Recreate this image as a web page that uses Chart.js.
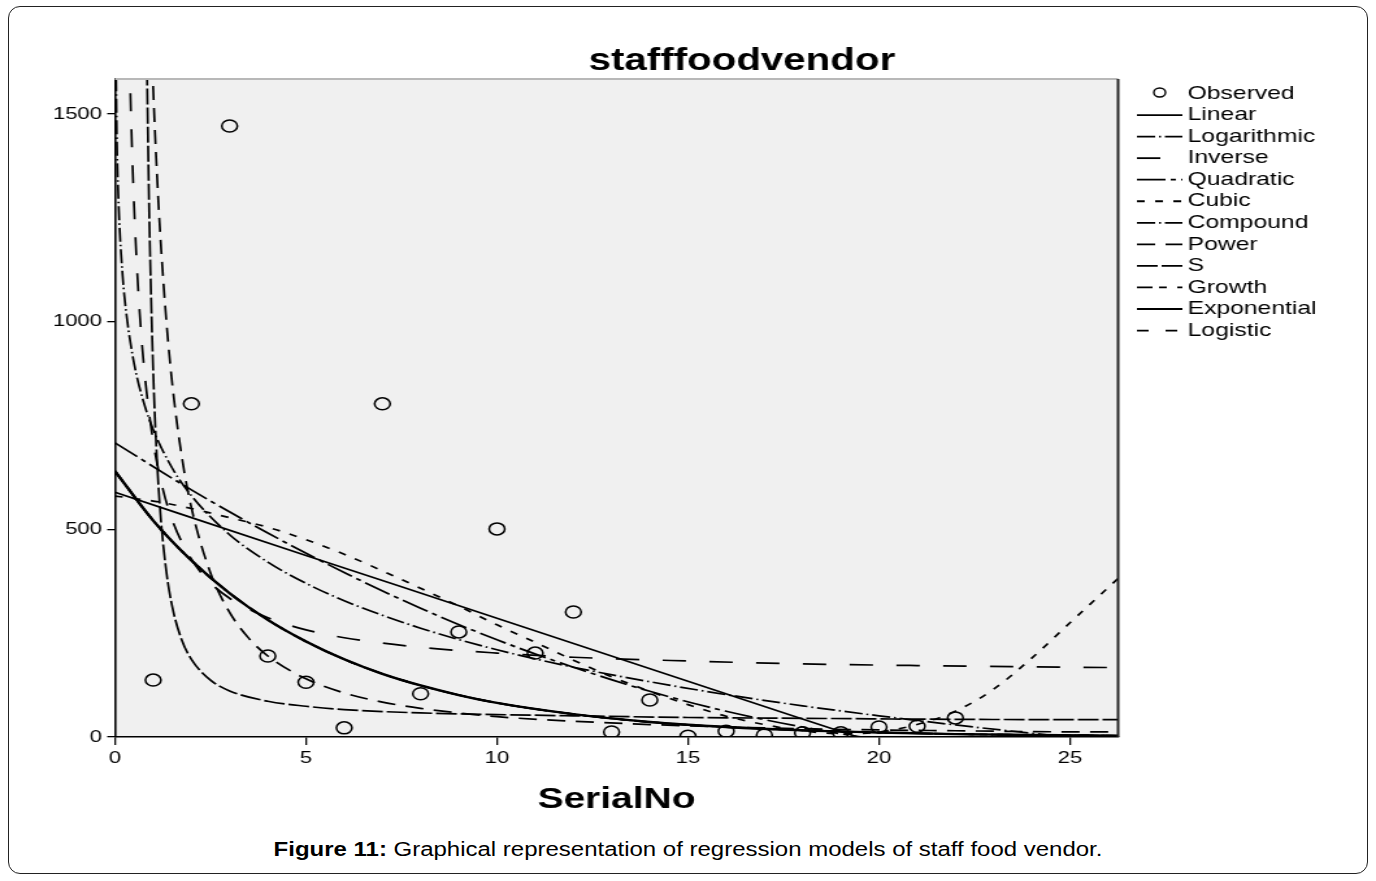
<!DOCTYPE html>
<html><head><meta charset="utf-8">
<script src="https://cdn.jsdelivr.net/npm/chart.js@4.4.1/dist/chart.umd.min.js"></script>
<style>
html,body{margin:0;padding:0;background:#fff;}
#wrap{position:relative;width:1376px;height:881px;overflow:hidden;}
#frame{position:absolute;left:8px;top:6px;width:1358px;height:866px;border:1.5px solid #222;border-radius:12px;}
#c{position:absolute;left:0;top:0;}
#cap{position:absolute;left:0;top:838px;width:1376px;text-align:center;font:19.5px "Liberation Sans",Arial,sans-serif;color:#000;transform:scaleX(1.23);transform-origin:688px 0;white-space:nowrap;}
</style></head><body>
<div id="wrap"><div id="frame"></div>
<canvas id="c" width="1059" height="830" style="width:1376px;height:830px"></canvas>
<div id="cap"><b>Figure 11:</b> Graphical representation of regression models of staff food vendor.</div></div>
<script>
// ---- data ----
const serialNo = [1,2,3,4,5,6,7,8,9,10,11,12,13,14,15,16,17,18,19,20,21,22];
const observed = [137,802,1471,195,132,22,802,104,253,501,202,301,12,89,2,14,5,10,10,24,26,46];

const linearX = [0,5,10,15,20,26.3];
const linearY = [589,437,286,134,-17,-208];

const logX = [0.02,0.05,0.1,0.2,0.3,0.5,0.75,1,1.5,2,3,4,5,6,8,10,12,14,16,18,20,22,24,26.3];
const logY = [1640,1429,1270,1110,1017,899,806,740,647,581,487,421,370,328,262,210,168,133,102,75,51,29,9,-12];

const inverseX = [0.34,0.4,0.45,0.5,0.6,0.7,0.8,1,1.25,1.5,2,2.5,3,4,5,6,8,10,12,15,18,21,24,26.3];
const inverseY = [1810,1560,1403,1277,1088,954,853,711,598,522,428,371,334,287,258,239,216,202,192,183,176,172,169,167];

const quadX = [0,2,4,6,8,10,12,14,16,18,20,22,24,26.3];
const quadY = [708,595,491,396,310,234,168,110,62,24,-6,-25,-37,-38];

const cubicX = [0,1,2,3,4,5,6,7,8,9,10,11,12,13,14,15,16,17,18,19,20,21,22,23,24,25,26.3];
const cubicY = [580,568,550,528,505,475,440,400,358,315,270,228,185,145,110,78,50,30,15,8,12,30,62,115,190,275,385];

const expX = [0,1,2,3,4,5,6,7,8,9,10,12,14,16,18,20,22,24,26.3];
const expY = [640,521,425,346,282,230,187,152,124,101,82,55,36,24,16,11,7,5,3];

const powerX = [0.85,0.9,1,1.1,1.2,1.35,1.5,1.75,2,2.5,3,3.5,4,5,6,7,8,10,12,14,16,18,20,22,24,26.3];
const powerY = [1991,1827,1560,1352,1187,995,849,674,552,395,300,238,195,140,106,84,69,49,38,30,24,20,17,15,13,12];

const sX = [0.78,0.82,0.85,0.9,1,1.1,1.2,1.35,1.5,1.75,2,2.5,3,4,5,6,8,10,12,15,18,21,24,26.3];
const sY = [2110,1737,1521,1241,880,664,525,394,313,233,187,137,111,86,74,66,58,54,51,47,45,43,42,42];

const xTickValues = [0,5,10,15,20,25];
const yTickValues = [0,500,1000,1500];

// ---- chart ----
const FONT = '"Liberation Sans", Arial, sans-serif';
Chart.defaults.font.family = FONT;
Chart.defaults.color = '#000';

function pts(xs, ys){ return xs.map((x,i)=>({x:x, y:ys[i]})); }
function curve(label, xs, ys, dash, width){
  return {label:label, data:pts(xs,ys), showLine:true, borderColor:'#000', backgroundColor:'#000',
    borderWidth:width||1.7, borderDash:dash, pointRadius:0, pointHoverRadius:0, fill:false,
    cubicInterpolationMode:'monotone'};
}

const datasets = [
  {label:'Observed', data:pts(serialNo, observed), showLine:false, pointStyle:'circle', pointRadius:6,
   pointBorderWidth:1.5, pointBorderColor:'#000', pointBackgroundColor:'rgba(0,0,0,0)'},
  curve('Linear', linearX, linearY, []),
  curve('Logarithmic', logX, logY, [14,3,1.5,3]),
  curve('Inverse', inverseX, inverseY, [18,18]),
  curve('Quadratic', quadX, quadY, [22,4,4,4]),
  curve('Cubic', cubicX, cubicY, [6,8]),
  curve('Compound', expX, expY, [14,3,1.5,3]),
  curve('Power', powerX, powerY, [14,8]),
  curve('S', sX, sY, [16,3]),
  curve('Growth', expX, expY, [12,5,6,8]),
  curve('Exponential', expX, expY, [], 2.4),
  curve('Logistic', expX, expY, [9,13])
];

const decor = {
  id:'decor',
  beforeDraw(chart){
    const {ctx, chartArea:a} = chart;
    ctx.save(); ctx.fillStyle='#f0f0f0';
    ctx.fillRect(a.left, a.top, a.right-a.left, a.bottom-a.top);
    ctx.restore();
  },
  afterDraw(chart){
    const {ctx, chartArea:a} = chart;
    ctx.save();
    ctx.strokeStyle='#b8b8b8'; ctx.lineWidth=2;
    ctx.beginPath(); ctx.moveTo(a.left, a.top); ctx.lineTo(a.right, a.top); ctx.stroke();
    ctx.strokeStyle='#222'; ctx.lineWidth=2;
    ctx.beginPath(); ctx.moveTo(a.right, a.top); ctx.lineTo(a.right, a.bottom); ctx.stroke();
    // title
    ctx.fillStyle='#000'; ctx.textAlign='center'; ctx.textBaseline='middle';
    ctx.font='bold 31px '+FONT;
    ctx.fillText('stafffoodvendor', 571, 61);
    // legend
    ctx.font='19px '+FONT; ctx.textAlign='left';
    chart.data.datasets.forEach((ds,i)=>{
      const y = 93.5 + i*21.55;
      ctx.strokeStyle='#000';
      if (ds.showLine){
        ctx.lineWidth=1.8; ctx.setLineDash(ds.borderDash||[]);
        ctx.beginPath(); ctx.moveTo(875,y); ctx.lineTo(910,y); ctx.stroke(); ctx.setLineDash([]);
      } else {
        ctx.lineWidth=1.4; ctx.beginPath(); ctx.arc(892.5, y-1, 4.5, 0, Math.PI*2); ctx.stroke();
      }
      ctx.fillText(ds.label, 914, y);
    });
    ctx.restore();
  }
};

new Chart(document.getElementById('c'), {
  type:'scatter',
  data:{datasets:datasets},
  options:{
    responsive:false, animation:false, devicePixelRatio:1,
    layout:{padding:{left:0, right:198.5, top:79, bottom:12}},
    plugins:{legend:{display:false}, tooltip:{enabled:false}, title:{display:false}},
    scales:{
      x:{type:'linear', min:0, max:26.26,
        afterFit(s){ s.height = 81; },
        afterBuildTicks(s){ s.ticks = xTickValues.map(v=>({value:v})); },
        ticks:{font:{size:17}, color:'#000', padding:3, includeBounds:false, callback:(v)=>String(v)},
        grid:{display:true, drawOnChartArea:false, drawTicks:true, tickLength:8, color:'#000', lineWidth:1.3},
        border:{display:true, color:'#000', width:1.6},
        title:{display:true, text:'SerialNo', font:{size:30, weight:'bold'}, color:'#000', padding:{top:0,bottom:0}}
      },
      y:{type:'linear', min:0, max:1584,
        afterFit(s){ s.width = 88.5; },
        afterBuildTicks(s){ s.ticks = yTickValues.map(v=>({value:v})); },
        ticks:{font:{size:17}, color:'#000', padding:4, includeBounds:false, callback:(v)=>String(v)},
        grid:{display:true, drawOnChartArea:false, drawTicks:true, tickLength:6, color:'#000', lineWidth:1.3},
        border:{display:true, color:'#000', width:1.6}
      }
    }
  },
  plugins:[decor]
});
</script>
</body></html>
